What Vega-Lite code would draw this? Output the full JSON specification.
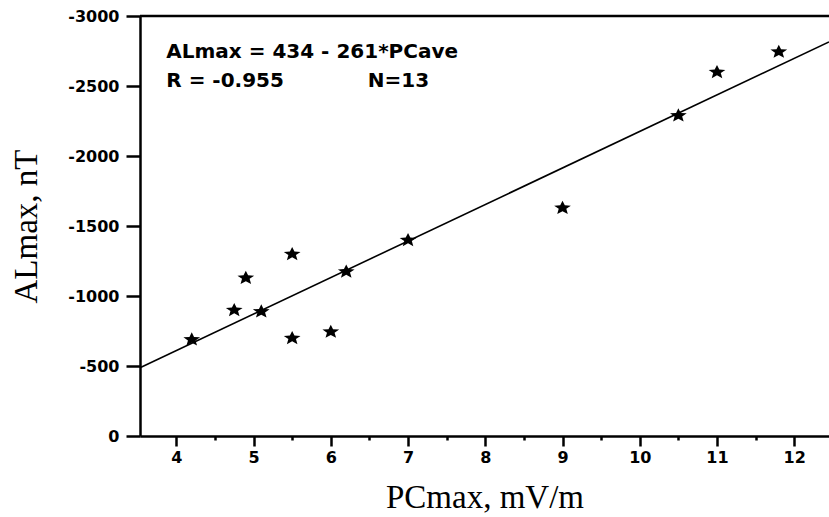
{
  "$schema": "https://vega.github.io/schema/vega-lite/v6.json",
  "width": 689,
  "height": 420,
  "autosize": "none",
  "padding": {"left": 140, "top": 16, "right": 0, "bottom": 81},
  "background": "white",
  "config": {
    "view": {"stroke": null},
    "axis": {
      "domainColor": "black",
      "domainWidth": 2.5,
      "tickColor": "black",
      "tickWidth": 2.5,
      "grid": false,
      "labelColor": "black",
      "labelFont": "DejaVu Sans",
      "labelFontWeight": "bold",
      "labelFontSize": 16,
      "titleColor": "black",
      "titleFont": "Liberation Serif",
      "titleFontWeight": "normal",
      "titleFontSize": 33
    }
  },
  "datasets": {
    "stars": [
      {"x": 4.2, "y": -690},
      {"x": 4.75, "y": -900},
      {"x": 4.9, "y": -1130},
      {"x": 5.1, "y": -890},
      {"x": 5.5, "y": -1300},
      {"x": 5.5, "y": -700},
      {"x": 6.0, "y": -745},
      {"x": 6.2, "y": -1175},
      {"x": 7.0, "y": -1400},
      {"x": 9.0, "y": -1630},
      {"x": 10.5, "y": -2290},
      {"x": 11.0, "y": -2600},
      {"x": 11.8, "y": -2745}
    ],
    "fitline": [
      {"x": 3.53, "y": -487},
      {"x": 12.45, "y": -2815}
    ],
    "annot": [
      {"x": 3.87, "y": -2743, "label": "ALmax = 434 - 261*PCave"},
      {"x": 3.87, "y": -2536, "label": "R = -0.955"},
      {"x": 6.48, "y": -2536, "label": "N=13"}
    ]
  },
  "layer": [
    {
      "data": {"name": "fitline"},
      "mark": {"type": "line", "color": "black", "strokeWidth": 1.6},
      "encoding": {
        "x": {
          "field": "x",
          "type": "quantitative",
          "scale": {"domain": [3.53, 12.45], "nice": false, "zero": false},
          "axis": {
            "title": "PCmax, mV/m",
            "values": [4, 4.5, 5, 5.5, 6, 6.5, 7, 7.5, 8, 8.5, 9, 9.5, 10, 10.5, 11, 11.5, 12],
            "labelExpr": "datum.value % 1 == 0 ? format(datum.value, 'd') : ''",
            "tickSize": {"condition": {"test": "datum.value % 1 == 0", "value": 10}, "value": 4},
            "labelPadding": 3,
            "titleBaseline": "alphabetic",
            "titleY": 71
          }
        },
        "y": {
          "field": "y",
          "type": "quantitative",
          "scale": {"domain": [0, -3000], "nice": false, "zero": false},
          "axis": {
            "title": "ALmax, nT",
            "values": [0, -250, -500, -750, -1000, -1250, -1500, -1750, -2000, -2250, -2500, -2750, -3000],
            "labelExpr": "datum.value % 500 == 0 ? (datum.value == 0 ? '0' : '-' + abs(datum.value)) : ''",
            "tickSize": {"condition": {"test": "datum.value % 500 == 0", "value": 14}, "value": 7},
            "labelPadding": 7,
            "titleBaseline": "alphabetic",
            "titleX": -104
          }
        }
      }
    },
    {
      "data": {"name": "stars"},
      "mark": {
        "type": "point",
        "shape": "M0,-0.8L0.26,-0.28L0.95,-0.24L0.43,0.12L0.6,0.7L0,0.38L-0.6,0.7L-0.43,0.12L-0.95,-0.24L-0.26,-0.28Z",
        "filled": true,
        "color": "black",
        "opacity": 1,
        "size": 310
      },
      "encoding": {
        "x": {"field": "x", "type": "quantitative"},
        "y": {"field": "y", "type": "quantitative"}
      }
    },
    {
      "data": {"name": "annot"},
      "mark": {"type": "text", "align": "left", "baseline": "middle", "font": "DejaVu Sans", "fontWeight": "bold", "fontSize": 20, "color": "black"},
      "encoding": {
        "x": {"field": "x", "type": "quantitative"},
        "y": {"field": "y", "type": "quantitative"},
        "text": {"field": "label"}
      }
    },
    {
      "data": {"values": [{"t": 1}]},
      "mark": {"type": "rule", "color": "black", "strokeWidth": 2.5},
      "encoding": {"y": {"datum": -3000}}
    }
  ]
}
